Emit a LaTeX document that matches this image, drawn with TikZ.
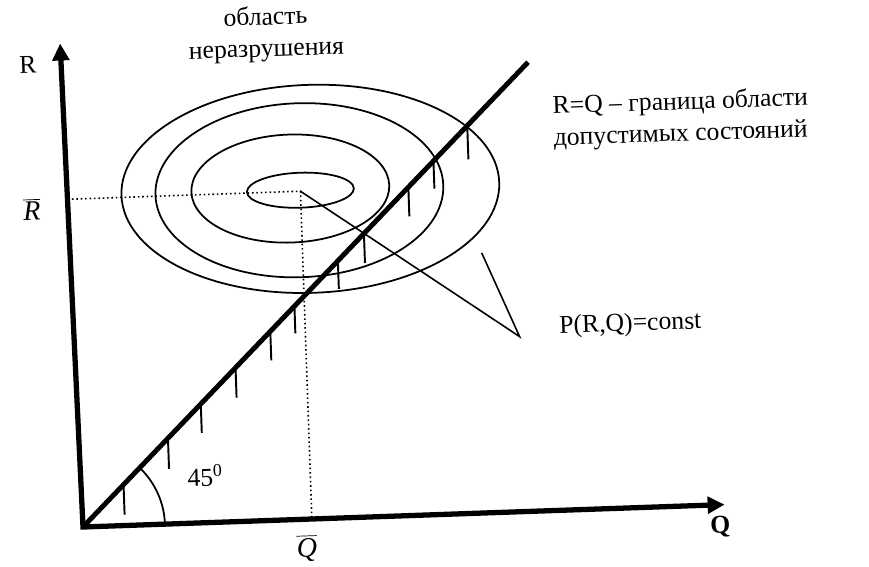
\documentclass[tikz,border=0pt]{standalone}
\usepackage{fontspec}
\setmainfont{Liberation Serif}
\usetikzlibrary{arrows.meta}

\begin{document}
\begin{tikzpicture}[
    x=0.2mm, y=0.2mm,
    font=\fontsize{14.6}{18}\selectfont,
    >={Triangle[length=3.4mm, width=3.3mm]},
    axis/.style={<->, line width=3pt},
    bound/.style={line width=2.8pt},
    hatch/.style={line width=1.1pt},
    isoline/.style={line width=1pt},
    guide/.style={line width=0.9pt, dash pattern=on 0.9pt off 1.6pt},
    leader/.style={line width=0.9pt},
    lbl/.style={inner sep=1pt, align=left},
    mean/.style={font=\fontsize{16}{19}\selectfont},
]
    \useasboundingbox[fill=white] (0,0) rectangle (869,567);

    \begin{scope}[shift={(83,40)}, rotate=2, transform shape]

    % =====================================================================
    % Axes and the boundary R=Q
    % =====================================================================
    \coordinate (O) at (0,0);
    \coordinate (qtip) at (642,0);
    \coordinate (rtip) at (-6,484);
    \coordinate (dtip) at (461,449);

    \draw[axis] (rtip) -- (O) -- (qtip);
    \draw[bound] (O) -- (dtip);

    % hatching under the boundary
    \draw[hatch] (42,41) -- ++(0,-30);
    \draw[hatch] (88,86) -- ++(0,-31);
    \draw[hatch] (122,119) -- ++(0,-29);
    \draw[hatch] (158,154) -- ++(0,-30);
    \draw[hatch] (194,189) -- ++(0,-29);
    \draw[hatch] (219,213) -- ++(0,-27);
    \draw[hatch] (264,257) -- ++(0,-28);
    \draw[hatch] (291,283) -- ++(0,-29);
    \draw[hatch] (337,328) -- ++(0,-29);
    \draw[hatch] (363,354) -- ++(0,-28);
    \draw[hatch] (398,388) -- ++(0,-34);

    % 45 degree mark
    \draw[isoline] (82,0) arc[start angle=0, end angle=44.3, radius=82];
    \node (angle) at (124,47) {45\textsuperscript{0}};

    % =====================================================================
    % Contours P(R,Q)=const
    % =====================================================================
    \coordinate (ctr) at (229,328);
    \draw[isoline] (229,329) ellipse [x radius=53.5, y radius=17.5];
    \draw[isoline] (219,331) ellipse [x radius=99, y radius=54];
    \draw[isoline] (228,329) ellipse [x radius=144, y radius=87];
    \draw[isoline] (239,330) ellipse [x radius=189, y radius=104];

    % mean values
    \coordinate (rfoot) at (-4,328);
    \coordinate (qfoot) at (229,0);
    \draw[guide] (rfoot) -- (ctr) -- (qfoot);

    % leader to the label
    \coordinate (apex) at (443,175);
    \coordinate (rim) at (408,260);
    \draw[leader] (ctr) -- (apex) -- (rim);

    % =====================================================================
    % Labels
    % =====================================================================
    \node[lbl, align=center] (region) at (200,486) {область\\неразрушения};
    \node[lbl, anchor=west] (boundlbl) at (482,387) {R=Q – граница области\\допустимых состояний};
    \node[lbl, anchor=west] (plbl) at (481,183) {P(R,Q)=const};
    \node (qlbl) at (637,-22) {\textbf{Q}};
    \node (rlbl) at (-39,464) {R};
    \node[mean] (rbar) at (-40,319) {$\overline{\textit{R}}$};
    \node[mean] (qbar) at (223,-29) {$\overline{\textit{Q}}$};

    \end{scope}
\end{tikzpicture}
\end{document}
